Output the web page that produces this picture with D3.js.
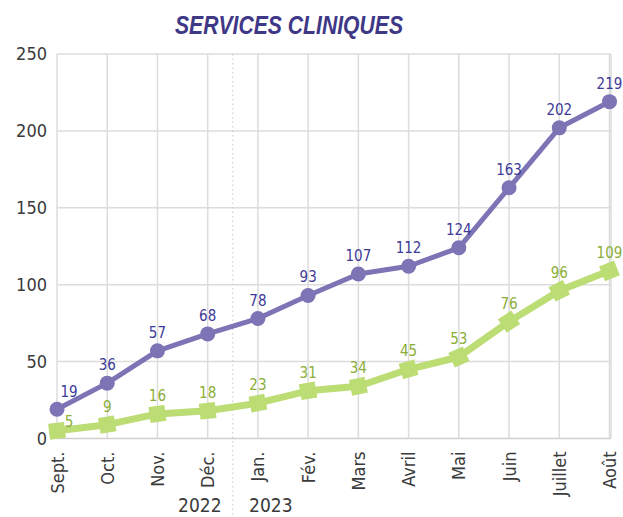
<!DOCTYPE html>
<html><head><meta charset="utf-8">
<script src="https://cdn.jsdelivr.net/npm/d3@7"></script>
<style>
body{margin:0;background:#fff;}
text{font-family:"Liberation Sans Narrow","DejaVu Sans Condensed","Roboto Condensed",sans-serif;}
</style></head>
<body><svg id="c" width="623" height="517"></svg>
<script>
const months = ["Sept.","Oct.","Nov.","Déc.","Jan.","Fév.","Mars","Avril","Mai","Juin","Juillet","Août"];
const purpleValues = [19,36,57,68,78,93,107,112,124,163,202,219];
const greenValues = [5,9,16,18,23,31,34,45,53,76,96,109];
const yTicks = [0,50,100,150,200,250];
const years = ["2022","2023"];
const title = "SERVICES CLINIQUES";

const svg = d3.select("#c");
const x = d3.scalePoint().domain(months).range([57,609.5]);
const y = d3.scaleLinear().domain([0,250]).range([438.5,54]);
const grid = "#dcdcdc";

// horizontal grid
svg.append("g").selectAll("line").data(yTicks).join("line")
  .attr("x1",57).attr("x2",611).attr("y1",d=>y(d)).attr("y2",d=>y(d))
  .attr("stroke",d=>d===0?"#cfcfcf":grid).attr("stroke-width",1.5);
// vertical grid
svg.append("g").selectAll("line").data(months).join("line")
  .attr("x1",d=>x(d)).attr("x2",d=>x(d)).attr("y1",y(250)).attr("y2",y(0))
  .attr("stroke",grid).attr("stroke-width",1.5);
svg.append("line").attr("x1",611).attr("x2",611).attr("y1",y(250)).attr("y2",y(0)).attr("stroke",grid).attr("stroke-width",1.5);
// year separator
const sepX = (x("Déc.")+x("Jan."))/2;
svg.append("line").attr("x1",sepX).attr("x2",sepX).attr("y1",y(250)).attr("y2",517)
  .attr("stroke","#c8c8c8").attr("stroke-width",1).attr("stroke-dasharray","1.5,3");

// y axis
const yAxis = d3.axisLeft(y).tickValues(yTicks).tickSize(0).tickPadding(10);
const gy = svg.append("g").attr("transform","translate(57,0)").call(yAxis);
gy.select(".domain").remove();
gy.selectAll("text").attr("font-size",18).attr("fill","#3a3a3a");

// x axis
const xAxis = d3.axisBottom(x).tickSize(0).tickPadding(0);
const gx = svg.append("g").attr("transform",`translate(0,${y(0)})`).call(xAxis);
gx.select(".domain").remove();
gx.selectAll("text").attr("font-size",18).attr("fill","#3a3a3a")
  .attr("text-anchor","end").attr("dy",null).attr("y",0)
  .attr("transform","translate(6,13) rotate(-90)");

// years
svg.append("g").selectAll("text").data(years).join("text")
  .attr("x",(d,i)=> i===0 ? sepX-33 : sepX+38)
  .attr("y",512).attr("text-anchor","middle").attr("font-size",19).attr("fill","#3a3a3a")
  .text(d=>d);

// title
svg.append("text").attr("x",175).attr("y",34)
  .style("font-family","'Liberation Sans',Arial,sans-serif")
  .attr("font-size",26).attr("font-weight","bold").attr("font-style","italic")
  .attr("textLength",228).attr("lengthAdjust","spacingAndGlyphs")
  .attr("fill","#3e3886").text(title);

function series(vals, color, width, labelColor, shape, firstDy){
  const pts = months.map((m,i)=>[x(m), y(vals[i])]);
  svg.append("path").datum(pts).attr("d",d3.line()).attr("fill","none")
    .attr("stroke",color).attr("stroke-width",width).attr("stroke-linejoin","round");
  const g = svg.append("g");
  pts.forEach((p,i)=>{
    if(shape==="circle"){
      g.append("circle").attr("cx",p[0]).attr("cy",p[1]).attr("r",7.5).attr("fill",color);
    } else {
      const a = i===0 ? Math.atan2(pts[1][1]-p[1], pts[1][0]-p[0])
              : i===pts.length-1 ? Math.atan2(p[1]-pts[i-1][1], p[0]-pts[i-1][0])
              : (Math.atan2(pts[i+1][1]-p[1], pts[i+1][0]-p[0]) + Math.atan2(p[1]-pts[i-1][1], p[0]-pts[i-1][0]))/2;
      g.append("rect").attr("x",-8).attr("y",-8).attr("width",16).attr("height",16)
        .attr("fill",color).attr("transform",`translate(${p[0]},${p[1]}) rotate(${a*180/Math.PI})`);
    }
    g.append("text").attr("x",p[0]+(i===0?12:0)).attr("y",p[1]-(i===0?firstDy:13))
      .attr("text-anchor","middle").attr("font-size",15).attr("fill",labelColor).text(vals[i]);
  });
}
series(greenValues,"#bcdc74",7,"#8aae36","square",4);
series(purpleValues,"#7c74b4",5,"#3c3a98","circle",12);
</script></body></html>
